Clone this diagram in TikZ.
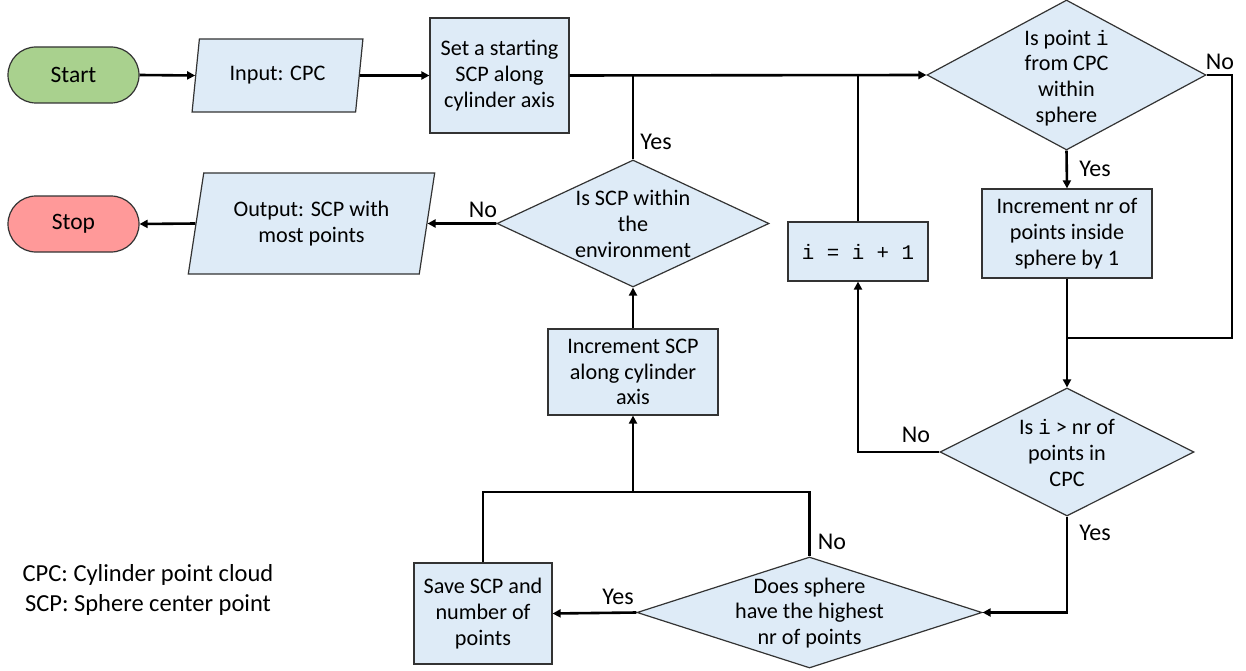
\documentclass[tikz,border=0pt]{standalone}
\usepackage{fontspec}
\setmainfont{Carlito}
\setmonofont{Liberation Mono}
\usetikzlibrary{shapes.geometric, arrows.meta}

\definecolor{boxblue}{HTML}{DEEBF7}
\definecolor{startgreen}{HTML}{A9D18E}
\definecolor{stopred}{HTML}{FF9999}
\definecolor{edgegray}{HTML}{333333}

% monospaced variable names inside the box texts
\newcommand\codetxt[1]{{\fontsize{20.8}{25.8}\selectfont\ttfamily #1}}

\tikzset{
  base/.style={draw=edgegray, line width=1.2pt, font=\fontsize{22.2}{25.8}\selectfont,
    align=center, inner sep=0pt},
  terminal/.style={base, rectangle, rounded corners=28pt, minimum width=131pt, minimum height=56pt},
  process/.style={base, rectangle, fill=boxblue},
  io/.style={base, trapezium, trapezium left angle=76, trapezium right angle=104,
    trapezium stretches=true, fill=boxblue},
  decision/.style={base, diamond, fill=boxblue},
  dtext/.style={font=\fontsize{22.2}{25.8}\selectfont, align=center, inner sep=0pt},
  flow/.style={line width=2.6pt, -{Triangle[length=8pt,width=8pt]}},
  link/.style={line width=2.6pt},
  lbl/.style={font=\fontsize{24}{28}\selectfont, inner sep=0pt},
}

\begin{document}
\begin{tikzpicture}[x=1pt, y=-1pt]
\useasboundingbox (0,0) rectangle (1246,671);

% terminals
\node[terminal, fill=startgreen, font=\fontsize{23.5}{26}\selectfont] (start) at (73.5,75) {Start};
\node[terminal, fill=stopred, font=\fontsize{23.5}{26}\selectfont] (stop) at (73.5,224) {Stop};

% input / output
\node[io, minimum width=171pt, minimum height=73pt] (inp) at (277.5,75.5) {Input: CPC};
\node[io, minimum width=247pt, minimum height=101pt] (out) at (311.5,223.5) {Output: SCP with\\most points};

% process boxes
\node[process, minimum width=139pt, minimum height=115pt] (set) at (499.5,75.5)
  {Set a starting\\SCP along\\cylinder axis};
\node[process, minimum width=170pt, minimum height=86pt] (incs) at (633,372)
  {Increment SCP\\along cylinder\\axis};
\node[process, minimum width=138pt, minimum height=101pt] (save) at (483,613.5)
  {Save SCP and\\number of\\points};
\node[process, minimum width=140pt, minimum height=59pt] (inci) at (858,251.5)
  {\codetxt{i = i + 1}};
\node[process, minimum width=170pt, minimum height=89pt] (incn) at (1067,233.5)
  {Increment nr of\\points inside\\sphere by 1};

% decisions
\node[decision, minimum width=279pt, minimum height=150pt] (d1) at (1066.5,75) {};
\node[dtext] (d1t) at (1066.5,78) {Is point \codetxt{i}\\from CPC\\within\\sphere};
\node[decision, minimum width=272pt, minimum height=127pt] (d2) at (633,223.5) {};
\node[dtext] (d2t) at (633,224) {Is SCP within\\the\\environment};
\node[decision, minimum width=254pt, minimum height=128pt] (d3) at (1067,452) {};
\node[dtext] (d3t) at (1067,453) {Is \codetxt{i} > nr of\\points in\\CPC};
\node[decision, minimum width=345pt, minimum height=111pt] (d4) at (809.5,612.5) {};
\node[dtext] (d4t) at (809.5,613) {Does sphere\\have the highest\\nr of points};

% junction points
\coordinate (j1) at (d2.north |- set.east);
\coordinate (j2) at (inci.north |- set.east);
\coordinate (r1) at (1232,338);
\coordinate (m1) at (incn.south |- r1);
\coordinate (j3) at (633,492);

% connectors
\draw[flow] (start.east) -- (inp.west);
\draw[flow] (inp.east) -- (set.west);
\draw[flow] (set.east) -- (d1.west);
\draw[link] (d2.north) -- (j1);
\draw[link] (inci.north) -- (j2);
\draw[flow] (d2.west) -- (out.east);
\draw[flow] (out.west) -- (stop.east);
\draw[flow] (d1.south) -- (incn.north);
\draw[link] (d1.east) -| (r1) -- (m1);
\draw[flow] (incn.south) -- (d3.north);
\draw[flow] (d3.west) -| (inci.south);
\draw[flow] (d3.south) |- (d4.east);
\draw[flow] (d4.west) -- (save.east);
\draw[link] (save.north) |- (j3) -| (d4.north);
\draw[flow] (j3) -- (incs.south);
\draw[flow] (incs.north) -- (d2.south);

% branch labels
\node[lbl] (l1) at (656,142) {Yes};
\node[lbl] (l2) at (483,210) {No};
\node[lbl] (l3) at (1220,62) {No};
\node[lbl] (l4) at (1095,169) {Yes};
\node[lbl] (l5) at (916,435) {No};
\node[lbl] (l6) at (1095,533) {Yes};
\node[lbl] (l7) at (832,542) {No};
\node[lbl] (l8) at (618,597) {Yes};

% legend
\node[font=\fontsize{24.5}{30}\selectfont, align=center, inner sep=0pt] (legend) at (148,590)
  {CPC: Cylinder point cloud\\SCP: Sphere center point};
\end{tikzpicture}
\end{document}
